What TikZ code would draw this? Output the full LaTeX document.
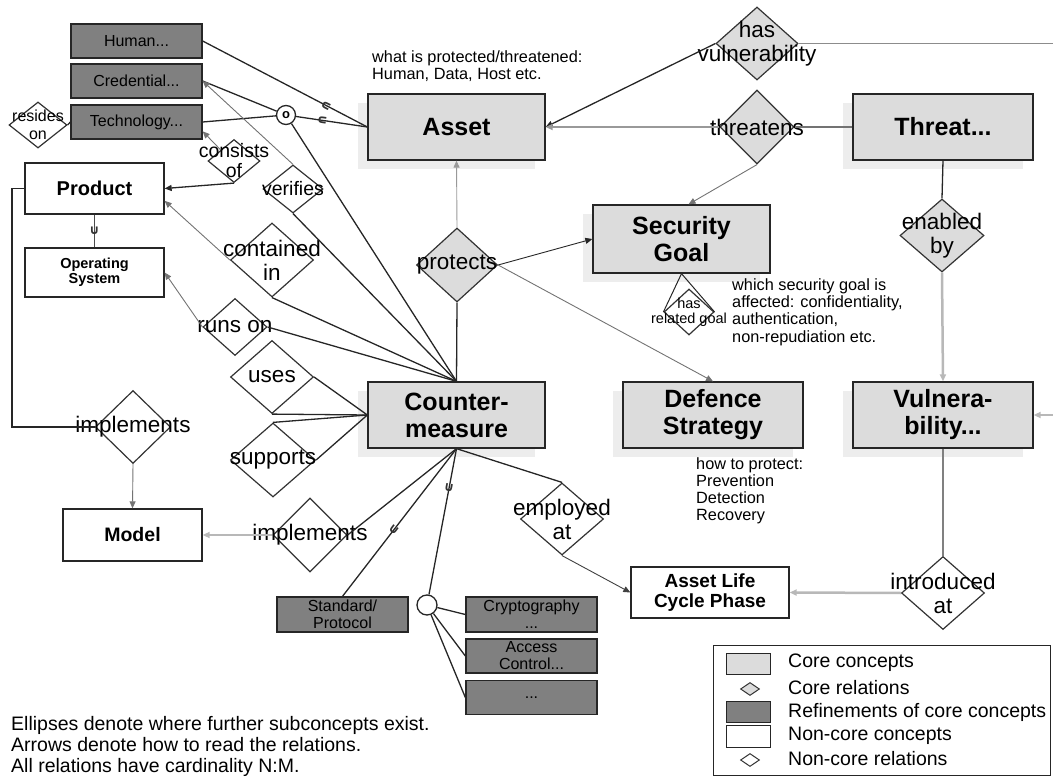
\documentclass[tikz,border=0pt]{standalone}
\usepackage{fontspec}
\setmainfont{Liberation Sans}
\newfontfamily\symf{DejaVu Sans}
\usetikzlibrary{shapes.geometric,arrows.meta,shadows,calc}
\definecolor{corefill}{HTML}{DCDCDC}
\definecolor{reffill}{HTML}{808080}
\newcommand{\myfs}[2]{\fontsize{#1}{#2}\selectfont}
\begin{document}
\begin{tikzpicture}[x=1pt,y=-1pt,
  box/.style={draw=black!85,line width=1.3pt,inner sep=0pt,align=center},
  corebox/.style={box,fill=corefill,font=\myfs{25}{27}\bfseries,
     drop shadow={shadow xshift=-10pt,shadow yshift=-9pt,fill=black!7,opacity=1}},
  refbox/.style={box,fill=reffill,font=\myfs{16}{17},minimum width=131pt,minimum height=34pt},
  ncbox/.style={box,fill=white},
  reld/.style={diamond,draw=black!80,line width=1.2pt,inner sep=0pt},
  corerel/.style={reld,fill=corefill},
  ncrel/.style={reld,fill=white},
  dtext/.style={font=\myfs{22.5}{24},align=center,inner sep=0pt},
  stext/.style={font=\myfs{19.5}{20},align=center,inner sep=0pt},
  note/.style={font=\myfs{16.3}{17.3},align=left,inner sep=0pt,anchor=west},
  lgtext/.style={font=\myfs{19.5}{20},inner sep=0pt,anchor=west},
  blk/.style={draw=black!85,line width=1.3pt},
  gthin/.style={draw=black!55,line width=0.9pt},
  midg/.style={draw=black!40,line width=1.9pt},
  pale/.style={draw=black!28,line width=2.5pt},
  arr/.style={-{Triangle[length=7pt,width=6pt]}},
  sub/.style={font=\symf\bfseries\myfs{13}{13},inner sep=0pt,text=black!80},
]
\useasboundingbox (0,0) rectangle (1053,778);

% ---------- concept boxes ----------
\node[refbox] (human) at (136.5,41) {Human...};
\node[refbox] (cred) at (136.5,81) {Credential...};
\node[refbox] (tech) at (136.5,122) {Technology...};
\node[corebox,minimum width=177pt,minimum height=66pt] (asset) at (456.5,127) {Asset};
\node[corebox,minimum width=180pt,minimum height=66pt] (threat) at (943,127) {Threat...};
\node[corebox,minimum width=177pt,minimum height=68pt] (secgoal) at (681.5,239) {Security\\Goal};
\node[corebox,minimum width=177pt,minimum height=66pt] (cm) at (456.5,415) {Counter-\\measure};
\node[corebox,minimum width=180pt,minimum height=66pt] (defence) at (713,415) {Defence\\Strategy};
\node[corebox,minimum width=180pt,minimum height=66pt] (vuln) at (943,415) {Vulnera-\\bility...};
\node[ncbox,minimum width=158pt,minimum height=51pt,font=\myfs{19}{20}\bfseries] (alcp) at (710,592.5) {Asset Life\\Cycle Phase};
\node[ncbox,minimum width=139pt,minimum height=51pt,font=\myfs{20}{22}\bfseries] (product) at (94.5,188.5) {Product};
\node[ncbox,minimum width=139pt,minimum height=49pt,font=\myfs{14.5}{15}\bfseries] (os) at (94.5,272.5) {Operating\\System};
\node[ncbox,minimum width=139pt,minimum height=52pt,font=\myfs{19.5}{21}\bfseries] (model) at (132.5,535) {Model};
\node[refbox,minimum height=35pt] (stdp) at (342.5,614.5) {Standard/\\Protocol};
\node[refbox,minimum height=35pt] (crypto) at (531.5,614.5) {Cryptography\\...};
\node[refbox] (access) at (531.5,656) {Access\\Control...};
\node[refbox] (dots) at (531.5,697.5) {...};

% ---------- relation diamonds ----------
\node[corerel,minimum width=82pt,minimum height=73pt,label={[dtext]center:{has\\vulnerability}}] (hasvul) at (757,43.5) {};
\node[corerel,minimum width=74pt,minimum height=74pt,label={[dtext]center:{threatens}}] (threatens) at (757,127) {};
\node[corerel,minimum width=81pt,minimum height=74pt,label={[dtext]center:{protects}}] (protects) at (457,265) {};
\node[corerel,minimum width=84pt,minimum height=73pt,label={[dtext]center:{enabled\\by}}] (enabled) at (942,235.5) {};
\node[ncrel,minimum width=83pt,minimum height=73pt,label={[dtext]center:{introduced\\at}}] (introd) at (943,593) {};
\node[ncrel,minimum width=83pt,minimum height=72pt,label={[dtext]center:{employed\\at}}] (employed) at (562,519) {};
\node[ncrel,minimum width=75pt,minimum height=73pt,label={[dtext]center:{implements}}] (impl1) at (133,427) {};
\node[ncrel,minimum width=74pt,minimum height=74pt,label={[dtext]center:{implements}}] (impl2) at (310,535) {};
\node[ncrel,minimum width=83pt,minimum height=73pt,label={[dtext]center:{uses}}] (uses) at (272,377) {};
\node[ncrel,minimum width=85pt,minimum height=74pt,label={[dtext]center:{supports}}] (supports) at (273,460) {};
\node[ncrel,minimum width=64pt,minimum height=57pt,label={[dtext]center:{runs on}}] (runson) at (235,327) {};
\node[ncrel,minimum width=83pt,minimum height=74pt,label={[dtext]center:{contained\\in}}] (contained) at (272,260) {};
\node[ncrel,minimum width=52pt,minimum height=43pt,label={[stext]center:{consists\\of}}] (consists) at (234,161) {};
\node[ncrel,minimum width=60pt,minimum height=48pt,label={[stext]center:{verifies}}] (verifies) at (293,189) {};
\node[ncrel,minimum width=58pt,minimum height=46pt,label={[font=\myfs{16}{18},align=center,inner sep=0pt]center:{resides\\on}}] (resides) at (38,125) {};
\node[ncrel,minimum width=50pt,minimum height=46pt,label={[font=\myfs{14.5}{15},align=center,inner sep=0pt]center:{has\\related goal}}] (relgoal) at (689,312) {};

% ---------- ellipses ----------
\node[circle,draw=black!85,line width=1.3pt,fill=white,minimum size=19pt,inner sep=0pt,font=\myfs{13}{13}\bfseries] (circ1) at (286,115) {o};
\node[circle,draw=black!85,line width=1.3pt,fill=white,minimum size=20pt,inner sep=0pt] (circ2) at (427,605) {};

% ---------- annotations ----------
\node[note] (n1) at (372,66) {what is protected/threatened:\\Human, Data, Host etc.};
\node[note] (n2) at (732,312) {which security goal is\\affected: confidentiality,\\authentication,\\non-repudiation etc.};
\node[note,font=\myfs{16.3}{17}] (n3) at (696,491) {how to protect:\\Prevention\\Detection\\Recovery};
\node[note,font=\myfs{19.5}{21}] (n4) at (11,746) {Ellipses denote where further subconcepts exist.\\Arrows denote how to read the relations.\\All relations have cardinality N:M.};

% ---------- legend ----------
\node[draw=black!85,line width=1pt,minimum width=337pt,minimum height=130pt,inner sep=0pt] (legend) at (881.5,710) {};
\node[box,line width=1pt,fill=corefill,minimum width=44pt,minimum height=21pt] (lg1) at (748,663.5) {};
\node[reld,line width=1pt,fill=corefill,minimum width=19pt,minimum height=13pt] (lg2) at (750,689) {};
\node[box,line width=1pt,fill=reffill,minimum width=44pt,minimum height=21pt] (lg3) at (748,711.5) {};
\node[box,line width=1pt,fill=white,minimum width=44pt,minimum height=22pt] (lg4) at (748,736) {};
\node[reld,line width=1pt,fill=white,minimum width=19pt,minimum height=13pt] (lg5) at (750,760) {};
\node[lgtext] (lt1) at (788,663) {Core concepts};
\node[lgtext] (lt2) at (788,688) {Core relations};
\node[lgtext] (lt3) at (788,712) {Refinements of core concepts};
\node[lgtext] (lt4) at (788,736) {Non-core concepts};
\node[lgtext] (lt5) at (788,759) {Non-core relations};

% ---------- connectors ----------
\coordinate (redge1) at (1053,43.5);
\coordinate (redge2) at (1053,415);
\coordinate (pbend) at (12,188.5);

\draw[blk,arr] (hasvul.west) -- (asset.east);
\draw[gthin,draw=black!45] (hasvul.east) -- (redge1);
\draw[pale,arr] (redge2) -- (vuln.east);
\draw[midg,draw=black!55] (threat.west) -- (threatens.east);
\draw[midg,arr] (threatens.west) -- (asset.east);
\draw[gthin,arr] (threatens.south) -- ($(secgoal.north)+(7,0)$);
\draw[blk] (threat.south) -- (enabled.north);
\draw[pale,arr] (enabled.south) -- (vuln.north);
\draw[draw=black!50,line width=2.5pt] (vuln.south) -- (introd.north);
\draw[pale,arr] (introd.west) -- (alcp.east);
\draw[gthin,draw=black!40,arr] (protects.north) -- (asset.south);
\draw[blk] (protects.south) -- (cm.north);
\draw[blk,line width=0.9pt,arr] (protects.east) -- (secgoal.west);
\draw[gthin,arr] (protects.east) -- (defence.north);
\draw[blk] (cm.south) -- (employed.north);
\draw[gthin,draw=black!75,arr] (employed.south) -- (alcp.west);
\draw[blk,line width=1pt] (secgoal.south) -- (relgoal.west);
\draw[blk,line width=1pt] (secgoal.south) -- (relgoal.east);

\draw[blk] (human.east) -- node[sub,pos=0.75,rotate=-117] (u1) {∪} (asset.west);
\draw[blk] (circ1) -- node[sub,pos=0.37,rotate=-98] (u2) {∪} (asset.west);
\draw[blk] (circ1) -- (cred.east);
\draw[blk] (circ1) -- (tech.east);
\draw[blk] (circ1) -- (cm.north);
\draw[gthin,arr] (verifies.north) -- (cred.east);
\draw[blk] (verifies.south) -- (cm.north);
\draw[gthin,arr] (consists.north west) -- (tech.-8);
\draw[blk,arr] (consists.south) -- (product.east);
\draw[gthin,arr] (contained.west) -- (product.-10);
\draw[blk] (contained.south) -- (cm.north);
\draw[gthin,arr] (runson.west) -- (os.east);
\draw[blk] (runson.east) -- (cm.north);
\draw[blk] (uses.east) -- (cm.west);
\draw[blk] (uses.south) -- (cm.west);
\draw[blk] (supports.north) -- (cm.west);
\draw[blk] (supports.east) -- (cm.west);
\draw[blk] (product.west) -- (pbend) |- (impl1.west);
\draw[gthin,arr] (impl1.south) -- (model.north);
\draw[pale,arr] (impl2.west) -- (model.east);
\draw[blk] (impl2.east) -- (cm.south);
\draw[blk] (stdp.north) -- node[sub,pos=0.45,rotate=-37] (u3) {∪} (cm.south);
\draw[blk] (circ2) -- node[sub,pos=0.73,rotate=-10.6] (u4) {∪} (cm.south);
\draw[blk] (circ2) -- (crypto.west);
\draw[blk] (circ2) -- (access.west);
\draw[blk] (circ2) -- (dots.west);
\draw[draw=black!70,line width=1.6pt] (product.south) -- node[sub] (u5) {∪} (os.north);
\draw[blk] (resides.east) -- (tech.west);
\end{tikzpicture}
\end{document}
